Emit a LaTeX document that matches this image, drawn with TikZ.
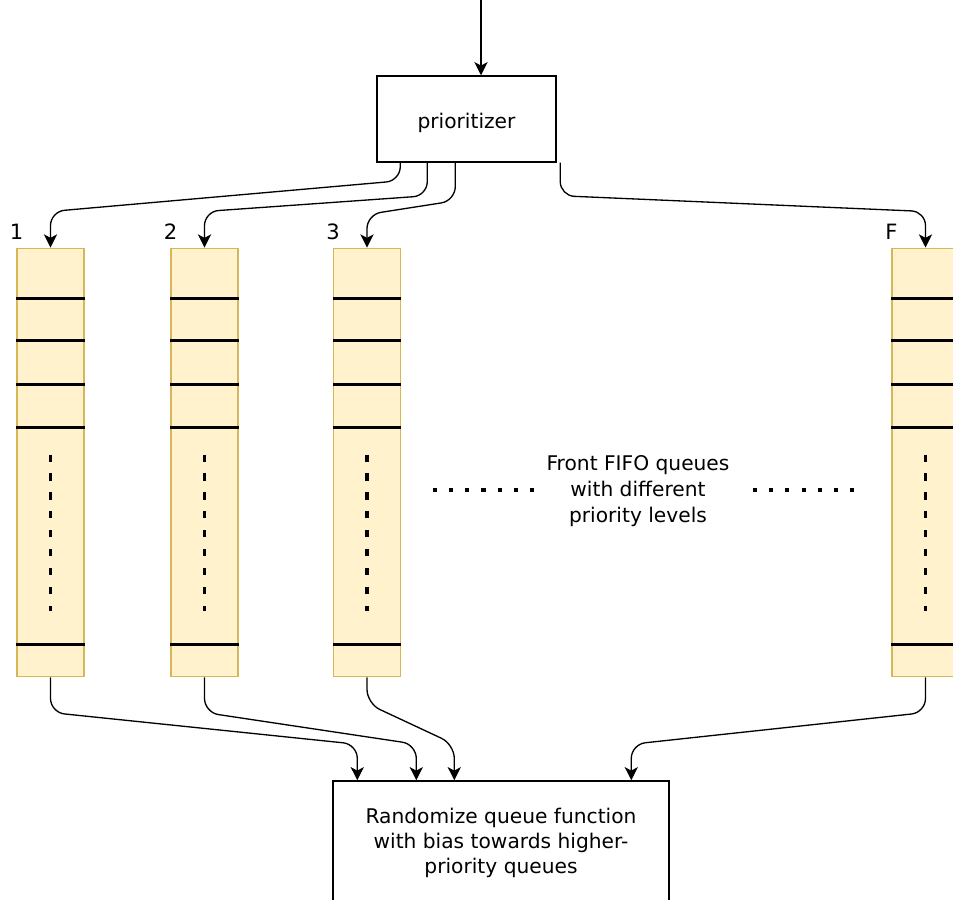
\documentclass[tikz,border=0pt]{standalone}
\usepackage{fontspec}
\setmainfont{DejaVu Sans}
\usetikzlibrary{arrows.meta,positioning,calc}
\definecolor{queuefill}{HTML}{FFF2CC}
\definecolor{queuedraw}{HTML}{D6B656}
\begin{document}
\begin{tikzpicture}
[x=0.02cm,y=-0.02cm,
  boxdecorate/.style={shape=rectangle,draw,line width=0.85pt,align=center,font=\fontsize{11.5}{14.2}\selectfont},
  queuedecorate/.style={shape=rectangle,draw=queuedraw,fill=queuefill,line width=0.6pt,minimum width=1.34cm,minimum height=8.58cm,inner sep=0pt},
  slotdecorate/.style={line width=1.3pt},
  dashdecorate/.style={line width=1.8pt,dash pattern=on 4pt off 6.8pt},
  dotdecorate/.style={line width=2.3pt,dash pattern=on 2.3pt off 6.9pt},
  linedecorate/.style={-{Stealth[length=7.5pt,width=7.5pt,inset=2pt]},line width=0.75pt,rounded corners=8pt}]
\useasboundingbox (0,0) rectangle (953,899);
%% boxes
\node (pri) at (466.5,119) [boxdecorate,minimum width=3.58cm,minimum height=1.72cm,text height=13pt] {prioritizer};
\node (rand) at (501,843) [boxdecorate,minimum width=6.72cm,minimum height=2.48cm] {Randomize queue function\\with bias towards higher-\\priority queues};
\coordinate (in) at (481,0);
%% queues
\foreach \nodename/\x/\lab in {q1/50.5/1, q2/204.5/2, q3/367/3, qF/925.5/F} {
  \node (\nodename) at (\x,462.5) [queuedecorate] {};
  \node (l\nodename) [above=1pt of \nodename.north west,font=\fontsize{12}{14}\selectfont] {\lab};
  \foreach \y in {51,93,137,180,397}
    \draw[slotdecorate] ($(\nodename.north west)+(0,\y)$) -- ($(\nodename.north east)+(0,\y)$);
  \draw[dashdecorate] ($(\nodename.north)+(0,207)$) -- ($(\nodename.north)+(0,363)$);
}
%% middle text
\node (front) at (638,491) [align=center,font=\fontsize{11.5}{14.7}\selectfont] {Front FIFO queues\\with different\\priority levels};
\draw[dotdecorate] (433,490) -- (535,490);
\draw[dotdecorate] (753,490) -- (855,490);
%% edges or lines
\draw[linedecorate] (in) -- (in |- pri.north);
\foreach \startx/\drop/\endnode/\rise in {24/18/q1/36, 51/33/q2/36, 79/38/q3/33, 184/33/qF/36}
  \draw[linedecorate] ($(pri.south west)+(\startx,0)$) -- ++(0,\drop) -- ($(\endnode.north)+(0,-\rise)$) -- (\endnode.north);
\foreach \startnode/\drop/\endx in {q1/35/25, q2/35/84, q3/26/122, qF/35/299}
  \draw[linedecorate] (\startnode.south) -- ++(0,\drop) -- ($(rand.north west)+(\endx,-36)$) -- ($(rand.north west)+(\endx,0)$);
\end{tikzpicture}
\end{document}
